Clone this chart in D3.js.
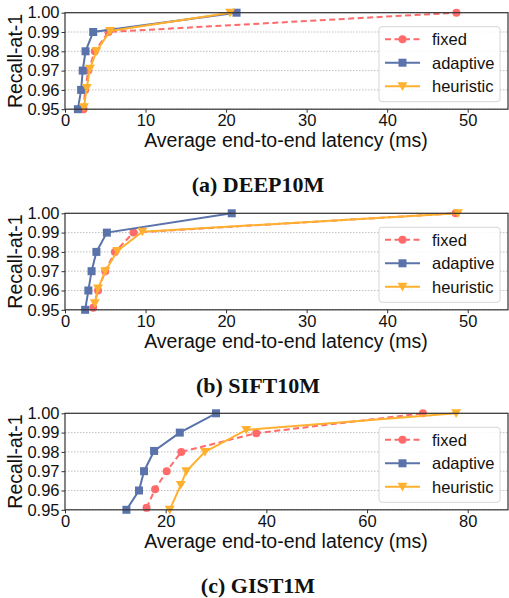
<!DOCTYPE html>
<html>
<head>
<meta charset="utf-8">
<script src="https://cdn.jsdelivr.net/npm/d3@7"></script>
<style>
  body { margin: 0; background: #fff; }
  svg { display: block; font-family: "Liberation Sans", Arial, sans-serif; }
</style>
</head>
<body>
<div id="chart"></div>
<script>
// recall targets on the y axis
const recallTicks = [0.95, 0.96, 0.97, 0.98, 0.99, 1.0];
const seriesNames = ["fixed", "adaptive", "heuristic"];

// (a) DEEP10M
const deepFixedLat = [2.3, 2.5, 2.9, 3.7, 5.4, 48.6];
const deepFixedRec = [0.95, 0.96, 0.97, 0.98, 0.99, 1.0];
const deepAdaptiveLat = [1.6, 2.0, 2.2, 2.55, 3.5, 21.3];
const deepAdaptiveRec = [0.95, 0.96, 0.97, 0.98, 0.99, 1.0];
const deepHeuristicLat = [2.35, 2.7, 3.1, 3.9, 5.6, 20.5];
const deepHeuristicRec = [0.951, 0.961, 0.971, 0.98, 0.9905, 1.0];

// (b) SIFT10M
const siftFixedLat = [3.5, 4.1, 5.0, 6.2, 8.5, 48.5];
const siftFixedRec = [0.951, 0.96, 0.97, 0.98, 0.99, 1.0];
const siftAdaptiveLat = [2.5, 2.9, 3.3, 3.9, 5.2, 20.7];
const siftAdaptiveRec = [0.95, 0.96, 0.97, 0.98, 0.99, 1.0];
const siftHeuristicLat = [3.7, 4.1, 5.0, 6.5, 9.6, 48.8];
const siftHeuristicRec = [0.9534, 0.961, 0.970, 0.9805, 0.9905, 1.0];

// (c) GIST1M
const gistFixedLat = [16.2, 17.9, 20.2, 23.1, 38.0, 71.1];
const gistFixedRec = [0.951, 0.9607, 0.97, 0.98, 0.9897, 1.0];
const gistAdaptiveLat = [12.2, 14.7, 15.7, 17.7, 22.8, 30.0];
const gistAdaptiveRec = [0.95, 0.96, 0.97, 0.9805, 0.99, 1.0];
const gistHeuristicLat = [20.8, 23.0, 24.1, 27.8, 36.0, 77.7];
const gistHeuristicRec = [0.95, 0.9629, 0.97, 0.98, 0.9914, 1.0];

const xMaxes = [55, 55, 88];
const xTickSets = [[0, 10, 20, 30, 40, 50], [0, 10, 20, 30, 40, 50], [0, 20, 40, 60, 80]];
const captions = ["(a) DEEP10M", "(b) SIFT10M", "(c) GIST1M"];

const panels = [
  [[deepFixedLat, deepFixedRec], [deepAdaptiveLat, deepAdaptiveRec], [deepHeuristicLat, deepHeuristicRec]],
  [[siftFixedLat, siftFixedRec], [siftAdaptiveLat, siftAdaptiveRec], [siftHeuristicLat, siftHeuristicRec]],
  [[gistFixedLat, gistFixedRec], [gistAdaptiveLat, gistAdaptiveRec], [gistHeuristicLat, gistHeuristicRec]],
];

const colors = { fixed: "#ff6b6b", adaptive: "#5a73ab", heuristic: "#ffb02e" };

const width = 509, height = 598;
const plotLeft = 65, plotRight = 508, plotH = 96.5;
const panelTops = [12.7, 213.3, 413.3];

const svg = d3.select("#chart").append("svg")
  .attr("width", width)
  .attr("height", height);

function drawMarker(g, name, cx, cy, size) {
  const c = colors[name];
  if (name === "fixed") {
    g.append("circle").attr("cx", cx).attr("cy", cy).attr("r", size * 0.5).attr("fill", c);
  } else if (name === "adaptive") {
    const s = size;
    g.append("rect").attr("x", cx - s / 2).attr("y", cy - s / 2)
      .attr("width", s).attr("height", s).attr("fill", c);
  } else {
    const s = size * 0.62;
    g.append("path")
      .attr("d", `M${cx - s},${cy - s * 0.8}L${cx + s},${cy - s * 0.8}L${cx},${cy + s * 0.95}Z`)
      .attr("fill", c);
  }
}

panels.forEach((series, pi) => {
  const top = panelTops[pi];
  const x = d3.scaleLinear().domain([0, xMaxes[pi]]).range([plotLeft, plotRight]);
  const y = d3.scaleLinear().domain([0.95, 1.0]).range([top + plotH, top]);

  const g = svg.append("g");

  // grid
  g.append("g")
    .selectAll("line")
    .data(recallTicks)
    .join("line")
    .attr("x1", plotLeft).attr("x2", plotRight)
    .attr("y1", d => y(d)).attr("y2", d => y(d))
    .attr("stroke", "#b0b0b0")
    .attr("stroke-width", 0.8)
    .attr("stroke-dasharray", "1.5,1.5");

  // axes
  const yAxis = g.append("g")
    .attr("transform", `translate(${plotLeft},0)`)
    .call(d3.axisLeft(y).tickValues(recallTicks).tickFormat(d3.format(".2f")).tickSize(3.5).tickPadding(2));
  const xAxis = g.append("g")
    .attr("transform", `translate(0,${top + plotH})`)
    .call(d3.axisBottom(x).tickValues(xTickSets[pi]).tickSize(3.5).tickPadding(1.5));
  [yAxis, xAxis].forEach(a => {
    a.select(".domain").remove();
    a.selectAll("line").attr("stroke", "#333");
    a.selectAll("text").attr("font-size", "16.5px").attr("fill", "#111")
      .attr("font-family", "Liberation Sans, Arial, sans-serif");
  });

  // series
  const clip = "clip" + pi;
  svg.append("clipPath").attr("id", clip).append("rect")
    .attr("x", plotLeft - 6).attr("y", top - 6).attr("width", plotRight - plotLeft + 6).attr("height", plotH + 12);

  const line = d3.line().x(d => x(d[0])).y(d => y(d[1]));
  const sg = g.append("g").attr("clip-path", `url(#${clip})`);
  seriesNames.forEach((name, si) => {
    const [lat, rec] = series[si];
    const pts = lat.map((v, i) => [v, rec[i]]);
    sg.append("path")
      .datum(pts)
      .attr("d", line)
      .attr("fill", "none")
      .attr("stroke", colors[name])
      .attr("stroke-width", 2)
      .attr("stroke-dasharray", name === "fixed" ? "6,3.5" : null);
    pts.forEach(p => drawMarker(sg, name, x(p[0]), y(p[1]), 8));
  });

  // frame
  g.append("rect")
    .attr("x", plotLeft).attr("y", top)
    .attr("width", plotRight - plotLeft).attr("height", plotH)
    .attr("fill", "none").attr("stroke", "#333").attr("stroke-width", 1.2);

  // legend
  const lg = g.append("g").attr("transform", `translate(379,${top + 14})`);
  lg.append("rect")
    .attr("width", 121).attr("height", 75).attr("rx", 3)
    .attr("fill", "#fff").attr("fill-opacity", 0.85)
    .attr("stroke", "#d6d6d6").attr("stroke-width", 1);
  seriesNames.forEach((name, si) => {
    const ly = 12.5 + si * 23.5;
    lg.append("line")
      .attr("x1", 6).attr("x2", 41).attr("y1", ly).attr("y2", ly)
      .attr("stroke", colors[name]).attr("stroke-width", 2)
      .attr("stroke-dasharray", name === "fixed" ? "6,3.5" : null);
    drawMarker(lg, name, 23.5, ly, 8);
    lg.append("text")
      .attr("x", 53).attr("y", ly + 6)
      .attr("font-size", "16.5px").attr("fill", "#111")
      .text(name);
  });

  // axis titles
  g.append("text")
    .attr("x", 286).attr("y", top + plotH + 38)
    .attr("text-anchor", "middle")
    .attr("font-size", "19.5px").attr("fill", "#111")
    .text("Average end-to-end latency (ms)");
  g.append("text")
    .attr("transform", `translate(22,${top + plotH / 2}) rotate(-90)`)
    .attr("text-anchor", "middle")
    .attr("font-size", "19.5px").attr("fill", "#111")
    .text("Recall-at-1");

  // caption
  g.append("text")
    .attr("x", 258).attr("y", top + plotH + 83)
    .attr("text-anchor", "middle")
    .attr("font-family", "Liberation Serif, Times New Roman, serif")
    .attr("font-weight", "bold")
    .attr("font-size", "22px").attr("fill", "#111")
    .text(captions[pi]);
});
</script>
</body>
</html>
